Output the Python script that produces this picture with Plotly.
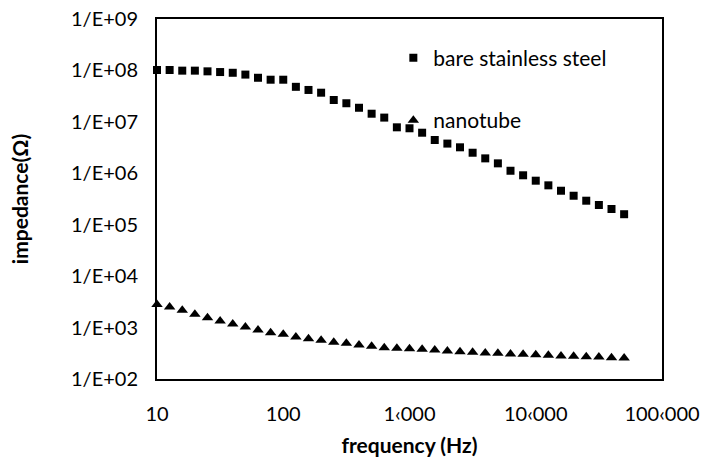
import plotly.graph_objects as go

frequency_hz = [10, 12.59, 15.85, 19.95, 25.12, 31.62, 39.81, 50.12, 63.10, 79.43,
                100, 125.9, 158.5, 199.5, 251.2, 316.2, 398.1, 501.2, 631.0, 794.3,
                1000, 1259, 1585, 1995, 2512, 3162, 3981, 5012, 6310, 7943,
                10000, 12589, 15849, 19953, 25119, 31623, 39811, 50119]

bare_steel_ohm = [1.02e8, 1.02e8, 9.9e7, 9.9e7, 9.6e7, 9.3e7, 9.0e7, 8.3e7, 7.2e7, 6.6e7,
                  6.6e7, 4.8e7, 4.17e7, 3.69e7, 2.66e7, 2.30e7, 1.88e7, 1.44e7, 1.21e7, 7.83e6,
                  7.50e6, 6.15e6, 4.44e6, 3.78e6, 3.20e6, 2.51e6, 1.95e6, 1.56e6, 1.12e6, 9.14e5,
                  7.18e5, 5.83e5, 4.58e5, 3.66e5, 2.93e5, 2.42e5, 2.02e5, 1.60e5]

nanotube_ohm = [2820, 2510, 2160, 1810, 1550, 1340, 1170, 1030, 895, 794,
                740, 655, 608, 565, 516, 493, 458, 432, 406, 398,
                388, 378, 366, 350, 340, 330, 320, 315, 306, 302,
                297, 288, 280, 276, 272, 267, 259, 256]

x_tickvals = [10, 100, 1000, 10000, 100000]
x_ticktext = ["10", "100", "1\u2039000", "10\u2039000", "100\u2039000"]
y_tickvals = [1e2, 1e3, 1e4, 1e5, 1e6, 1e7, 1e8, 1e9]
y_ticktext = ["1/E+02", "1/E+03", "1/E+04", "1/E+05", "1/E+06", "1/E+07", "1/E+08", "1/E+09"]

FONT = "Lato"
FTICK = 20
FLEG = 21
FT = 21
fig = go.Figure()
fig.add_trace(go.Scatter(x=frequency_hz, y=bare_steel_ohm, mode="markers",
                         name="bare stainless steel", legendgroup="a",
                         marker=dict(symbol="square", size=8, color="black"),
                         cliponaxis=False))
fig.add_trace(go.Scatter(x=frequency_hz, y=nanotube_ohm, mode="markers",
                         name="nanotube", legendgroup="b",
                         marker=dict(symbol="triangle-up", size=10, color="black"),
                         cliponaxis=False))

fig.update_layout(
    width=703, height=457,
    margin=dict(l=157, r=41, t=19, b=78, autoexpand=False),
    paper_bgcolor="white", plot_bgcolor="white",
    font=dict(family=FONT, size=FTICK, color="black"),
    showlegend=True,
    legend=dict(x=0.468, y=0.948, xanchor="left", yanchor="top",
                bgcolor="rgba(0,0,0,0)", tracegroupgap=32,
                traceorder="grouped", itemwidth=30,
                font=dict(family=FONT, size=FLEG, color="black")),
    xaxis=dict(type="log", range=[1, 5], tickvals=x_tickvals, ticktext=x_ticktext,
               tickfont=dict(family=FONT, size=FTICK), automargin=False,
               showgrid=False, zeroline=False, showline=True, linecolor="black",
               linewidth=2, mirror=True, ticks="", ticklabelstandoff=16,
               title=dict(text="<b>frequency (Hz)</b>", standoff=15,
                          font=dict(family=FONT, size=FT))),
    yaxis=dict(type="log", range=[2, 9], tickvals=y_tickvals, ticktext=y_ticktext,
               tickfont=dict(family=FONT, size=FTICK), automargin=False,
               showgrid=False, zeroline=False, showline=True, linecolor="black",
               linewidth=2, mirror=True, ticks="", ticklabelstandoff=13,
               title=dict(text="<b>impedance(\u03a9)</b>", standoff=37,
                          font=dict(family=FONT, size=FT))),
)

fig.write_html("out.html", config={"displayModeBar": False},
               post_script="document.body.style.margin='0';")
